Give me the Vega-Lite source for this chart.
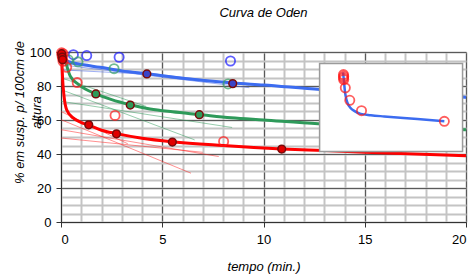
{
  "$schema": "https://vega.github.io/schema/vega-lite/v6.json",
  "width": 405,
  "height": 170,
  "autosize": {"type": "none"},
  "padding": {"left": 61, "top": 52, "right": 4, "bottom": 56},
  "background": "white",
  "config": {
    "font": "Liberation Sans",
    "view": {"stroke": null},
    "title": {"font": "Liberation Sans", "fontSize": 13, "fontStyle": "italic", "fontWeight": "normal", "color": "#000"},
    "axis": {"labelFont": "Liberation Sans", "labelFontSize": 13, "labelColor": "#000", "titleFont": "Liberation Sans", "titleFontSize": 13, "titleFontStyle": "italic", "titleFontWeight": "normal", "titleColor": "#000"}
  },
  "title": {"text": "Curva de Oden", "anchor": "middle", "offset": 20},
  "datasets": {
    "curves": [
      {"s": "blue", "x": 0.03, "y": 100}, {"s": "blue", "x": 0.1, "y": 97.5}, {"s": "blue", "x": 0.28, "y": 94.8}, {"s": "blue", "x": 0.6, "y": 93.5}, {"s": "blue", "x": 1.1, "y": 92.5}, {"s": "blue", "x": 1.93, "y": 91}, {"s": "blue", "x": 3, "y": 88.9}, {"s": "blue", "x": 4.24, "y": 87.2}, {"s": "blue", "x": 6, "y": 84.6}, {"s": "blue", "x": 8.5, "y": 81.8}, {"s": "blue", "x": 10, "y": 80.6}, {"s": "blue", "x": 12.8, "y": 78}, {"s": "blue", "x": 16, "y": 76}, {"s": "blue", "x": 20, "y": 73.3},
      {"s": "green", "x": 0.02, "y": 100}, {"s": "green", "x": 0.1, "y": 96.5}, {"s": "green", "x": 0.2, "y": 94.6}, {"s": "green", "x": 0.45, "y": 86}, {"s": "green", "x": 0.86, "y": 81}, {"s": "green", "x": 1.2, "y": 78.2}, {"s": "green", "x": 1.72, "y": 75.4}, {"s": "green", "x": 2.5, "y": 72}, {"s": "green", "x": 3.42, "y": 69}, {"s": "green", "x": 4.4, "y": 66.5}, {"s": "green", "x": 5.5, "y": 64.8}, {"s": "green", "x": 6.83, "y": 63.2}, {"s": "green", "x": 8.4, "y": 61.3}, {"s": "green", "x": 10, "y": 60}, {"s": "green", "x": 12.7, "y": 57.8}, {"s": "green", "x": 16, "y": 56}, {"s": "green", "x": 20, "y": 54.2},
      {"s": "red", "x": 0.02, "y": 100}, {"s": "red", "x": 0.05, "y": 92}, {"s": "red", "x": 0.08, "y": 84}, {"s": "red", "x": 0.15, "y": 74}, {"s": "red", "x": 0.28, "y": 66}, {"s": "red", "x": 0.6, "y": 61.2}, {"s": "red", "x": 1, "y": 58.5}, {"s": "red", "x": 1.37, "y": 57}, {"s": "red", "x": 2, "y": 54}, {"s": "red", "x": 2.74, "y": 52}, {"s": "red", "x": 4, "y": 49.3}, {"s": "red", "x": 5.5, "y": 47.2}, {"s": "red", "x": 8, "y": 45}, {"s": "red", "x": 10.9, "y": 43}, {"s": "red", "x": 13, "y": 42}, {"s": "red", "x": 15, "y": 41}, {"s": "red", "x": 20, "y": 39}
    ],
    "open": [
      {"s": "blue", "x": 0.61, "y": 98.4}, {"s": "blue", "x": 1.27, "y": 97.9}, {"s": "blue", "x": 2.87, "y": 96.9}, {"s": "blue", "x": 8.37, "y": 94.7},
      {"s": "green", "x": 0.36, "y": 95.4}, {"s": "green", "x": 0.84, "y": 94.2}, {"s": "green", "x": 2.62, "y": 90.2}, {"s": "green", "x": 8.25, "y": 81.2},
      {"s": "red", "x": 0.28, "y": 91}, {"s": "red", "x": 0.8, "y": 82}, {"s": "red", "x": 2.67, "y": 62.7}, {"s": "red", "x": 8.03, "y": 47.4},
      {"s": "red", "x": 0.03, "y": 99.5}, {"s": "red", "x": 0.05, "y": 98}, {"s": "red", "x": 0.07, "y": 96.5}, {"s": "red", "x": 0.1, "y": 94.5}, {"s": "red", "x": 0.1, "y": 99}
    ],
    "filled": [
      {"s": "blue", "x": 4.24, "y": 87.1}, {"s": "blue", "x": 8.48, "y": 81.4},
      {"s": "green", "x": 1.72, "y": 75.3}, {"s": "green", "x": 3.42, "y": 68.8}, {"s": "green", "x": 6.83, "y": 63.1},
      {"s": "red", "x": 1.37, "y": 57.2}, {"s": "red", "x": 2.74, "y": 51.9}, {"s": "red", "x": 5.5, "y": 47}, {"s": "red", "x": 10.9, "y": 42.9},
      {"s": "red", "x": 0.03, "y": 99}, {"s": "red", "x": 0.06, "y": 97}, {"s": "red", "x": 0.08, "y": 95.5}
    ],
    "tangents": [
      {"s": "blue", "x": 0, "y": 89.5, "x2": 4.5, "y2": 86.8},
      {"s": "blue", "x": 0, "y": 92.5, "x2": 9.3, "y2": 79},
      {"s": "blue", "x": 0, "y": 93.5, "x2": 9.3, "y2": 80.5},
      {"s": "green", "x": 0, "y": 84.8, "x2": 4.2, "y2": 68},
      {"s": "green", "x": 0, "y": 77.9, "x2": 6.6, "y2": 48.3},
      {"s": "green", "x": 0, "y": 71, "x2": 8.45, "y2": 55.6},
      {"s": "red", "x": 0, "y": 65, "x2": 3.3, "y2": 46},
      {"s": "red", "x": 0, "y": 60.2, "x2": 6.42, "y2": 28.7},
      {"s": "red", "x": 0, "y": 54.3, "x2": 7.79, "y2": 38.5},
      {"s": "red", "x": 0, "y": 49.4, "x2": 7, "y2": 41}
    ],
    "inset": [{"x": 12.77, "x2": 19.83, "y": 41.5, "y2": 93.2}],
    "insetCurve": [
      {"x": 13.93, "y": 88}, {"x": 13.98, "y": 82}, {"x": 14.02, "y": 77}, {"x": 14.06, "y": 73.9}, {"x": 14.15, "y": 70}, {"x": 14.3, "y": 67.1}, {"x": 14.5, "y": 65.2}, {"x": 14.8, "y": 63.6}, {"x": 15.3, "y": 62.8}, {"x": 15.96, "y": 62.1}, {"x": 17.6, "y": 60.6}, {"x": 18.93, "y": 59.3}
    ],
    "insetPts": [
      {"x": 13.95, "y": 86.7}, {"x": 13.96, "y": 85.7}, {"x": 13.95, "y": 84.8}, {"x": 13.96, "y": 83.8}, {"x": 14.04, "y": 78.9}, {"x": 14.26, "y": 71.6}, {"x": 14.84, "y": 65.5}, {"x": 18.93, "y": 59.2}
    ]
  },
  "resolve": {"axis": {"x": "independent", "y": "independent"}, "scale": {"color": "independent", "fill": "independent"}},
  "layer": [
    {
      "data": {"name": "curves"},
      "mark": {"type": "point", "opacity": 0},
      "encoding": {
        "x": {"field": "x", "type": "quantitative", "scale": {"domain": [0, 20], "nice": false},
          "axis": {"orient": "bottom", "values": [0,1,2,3,4,5,6,7,8,9,10,11,12,13,14,15,16,17,18,19,20], "grid": true, "gridColor": "#c4c4c4", "gridWidth": 2, "labels": false, "ticks": false, "domain": false, "title": null}},
        "y": {"field": "y", "type": "quantitative", "scale": {"domain": [0, 100], "nice": false},
          "axis": {"orient": "left", "values": [0,5,10,15,20,25,30,35,40,45,50,55,60,65,70,75,80,85,90,95,100], "grid": true, "gridColor": "#c4c4c4", "gridWidth": 2, "labels": false, "ticks": false, "domain": false, "title": null}}
      }
    },
    {
      "data": {"name": "tangents"},
      "mark": {"type": "rule", "strokeWidth": 1, "opacity": 0.5},
      "encoding": {
        "x": {"field": "x", "type": "quantitative",
          "axis": {"orient": "bottom", "values": [0, 5, 10, 15, 20], "grid": true, "gridColor": "#5a5a5a", "gridWidth": 1, "domainColor": "#333", "tickColor": "#333", "tickSize": 5, "labelPadding": 6, "title": "tempo (min.)", "titlePadding": 14}},
        "y": {"field": "y", "type": "quantitative",
          "axis": {"orient": "left", "values": [0, 20, 40, 60, 80, 100], "grid": true, "gridColor": "#5a5a5a", "gridWidth": 1, "domainColor": "#333", "tickColor": "#333", "tickSize": 5, "labelPadding": 5,
            "title": ["% em susp. p/ 100cm de", "altura"], "titleAngle": -90, "titleX": -42, "titleY": 60, "titleAlign": "center", "titleBaseline": "middle", "titleLineHeight": 17}},
        "x2": {"field": "x2"},
        "y2": {"field": "y2"},
        "color": {"field": "s", "type": "nominal", "legend": null, "scale": {"domain": ["blue", "green", "red"], "range": ["#4060e8", "#2e9a5a", "#ff2020"]}}
      }
    },
    {
      "data": {"name": "curves"},
      "mark": {"type": "line", "strokeWidth": 3, "interpolate": "monotone"},
      "encoding": {
        "x": {"field": "x", "type": "quantitative", "axis": null},
        "y": {"field": "y", "type": "quantitative", "axis": null},
        "color": {"field": "s", "type": "nominal", "legend": null, "scale": {"domain": ["blue", "green", "red"], "range": ["#3c6cf0", "#2e9a5a", "#ff0000"]}}
      }
    },
    {
      "data": {"name": "open"},
      "mark": {"type": "point", "shape": "circle", "filled": false, "size": 85, "strokeWidth": 1.8},
      "encoding": {
        "x": {"field": "x", "type": "quantitative", "axis": null},
        "y": {"field": "y", "type": "quantitative", "axis": null},
        "color": {"field": "s", "type": "nominal", "legend": null, "scale": {"domain": ["blue", "green", "red"], "range": ["#1a1aff", "#35a065", "#ff1a1a"]}}
      }
    },
    {
      "data": {"name": "filled"},
      "mark": {"type": "point", "shape": "circle", "filled": true, "size": 60, "stroke": "#7a0a0a", "strokeWidth": 1.5, "opacity": 1},
      "encoding": {
        "x": {"field": "x", "type": "quantitative", "axis": null},
        "y": {"field": "y", "type": "quantitative", "axis": null},
        "fill": {"field": "s", "type": "nominal", "legend": null, "scale": {"domain": ["blue", "green", "red"], "range": ["#3a44c8", "#2e9a5a", "#e00000"]}}
      }
    },
    {
      "data": {"name": "inset"},
      "mark": {"type": "rect", "fill": "white", "stroke": "#9a9a9a", "strokeWidth": 1.5},
      "encoding": {
        "x": {"field": "x", "type": "quantitative", "axis": null},
        "x2": {"field": "x2"},
        "y": {"field": "y", "type": "quantitative", "axis": null},
        "y2": {"field": "y2"}
      }
    },
    {
      "data": {"name": "insetCurve"},
      "mark": {"type": "line", "strokeWidth": 2.5, "color": "#3c6cf0", "interpolate": "monotone"},
      "encoding": {
        "x": {"field": "x", "type": "quantitative", "axis": null},
        "y": {"field": "y", "type": "quantitative", "axis": null}
      }
    },
    {
      "data": {"name": "insetPts"},
      "mark": {"type": "point", "shape": "circle", "filled": false, "size": 85, "strokeWidth": 1.8, "color": "#ff1a1a"},
      "encoding": {
        "x": {"field": "x", "type": "quantitative", "axis": null},
        "y": {"field": "y", "type": "quantitative", "axis": null}
      }
    }
  ]
}
